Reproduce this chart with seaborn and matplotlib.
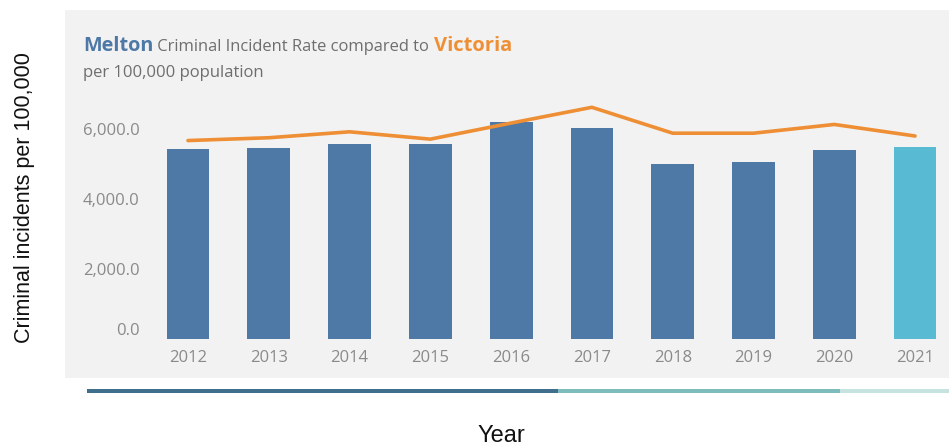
import matplotlib
matplotlib.use("Agg")
import matplotlib.pyplot as plt
from matplotlib.patches import Rectangle
from matplotlib.ticker import FuncFormatter
import seaborn as sns
import pandas as pd

# Annual criminal incident rates per 100,000 population
years = ["2012", "2013", "2014", "2015", "2016", "2017", "2018", "2019", "2020", "2021"]
melton_rate = [5420, 5450, 5560, 5560, 6210, 6020, 4990, 5070, 5400, 5480]
victoria_rate = [5670, 5750, 5920, 5710, 6170, 6620, 5880, 5880, 6130, 5800]

df = pd.DataFrame({"Year": years, "Melton": melton_rate, "Victoria": victoria_rate})

BLUE = "#4e79a7"
LIGHT_BLUE = "#59bbd3"
ORANGE = "#ee8f35"
TICK_GREY = "#8a8a8a"

sns.set_theme(style="white")
plt.rcParams["font.family"] = ["Open Sans", "DejaVu Sans"]

W, H = 949, 448
fig = plt.figure(figsize=(W / 100, H / 100), dpi=100)
fig.patch.set_facecolor("white")

# light grey dashboard panel, kept behind the axes
fig.patches.append(Rectangle((65 / W, (H - 378) / H), (W - 65) / W, 368 / H,
                             transform=fig.transFigure, facecolor="#f2f2f2",
                             edgecolor="none", zorder=-10))

ax_left, ax_right = 145, 949
ax_bottom, ax_top = 339, 94
ax = fig.add_axes([ax_left / W, (H - ax_bottom) / H,
                   (ax_right - ax_left) / W, (ax_bottom - ax_top) / H])
ax.set_facecolor("none")
ax.set_zorder(5)

bar_colors = [BLUE] * (len(years) - 1) + [LIGHT_BLUE]
sns.barplot(data=df, x="Year", y="Melton", hue="Year", palette=bar_colors,
            legend=False, width=0.53, saturation=1, linewidth=0, ax=ax)
sns.pointplot(data=df, x="Year", y="Victoria", color=ORANGE, markers="",
              linestyles="-", ax=ax)
for line in ax.lines:
    line.set_linewidth(2.6)
    line.set_solid_joinstyle("round")

ax.set_ylim(0, 7000)
ax.set_xlim(-0.532, 9.42)
ax.set_yticks([0, 2000, 4000, 6000])
ax.yaxis.set_major_formatter(FuncFormatter(lambda v, p: f"{v:,.1f}"))
ax.tick_params(axis="both", length=0, labelsize=12, labelcolor=TICK_GREY)
ax.tick_params(axis="y", pad=4)
ax.tick_params(axis="x", pad=8)
for lab in ax.get_yticklabels():
    if lab.get_text() == "0.0":
        lab.set_va("bottom")
for s in ax.spines.values():
    s.set_visible(False)
ax.set_xlabel("")
ax.set_ylabel("")

# outer axis titles
fig.text(25 / W, 1 - 198 / H, "Criminal incidents per 100,000", rotation=90,
         ha="center", va="center", fontsize=15.5, color="#111111",
         family=["Liberation Sans", "DejaVu Sans"])
fig.text(501 / W, 1 - 436 / H, "Year", ha="center", va="center", fontsize=17,
         color="#111111", family=["Liberation Sans", "DejaVu Sans"])

# title built from coloured runs
fig.canvas.draw()
renderer = fig.canvas.get_renderer()
x0 = 83 / W
ty = 1 - 51 / H
parts = [("Melton", BLUE, 14.3, "bold"),
         (" Criminal Incident Rate compared to ", "#6e6e6e", 11.9, "normal"),
         ("Victoria", ORANGE, 14.5, "bold")]
for txt, col, fs, fw in parts:
    t = fig.text(x0, ty, txt, color=col, fontsize=fs, fontweight=fw,
                 ha="left", va="baseline")
    bb = t.get_window_extent(renderer)
    x0 += bb.width / W
fig.text(83 / W, 1 - 77 / H, "per 100,000 population", color="#6e6e6e",
         fontsize=12, ha="left", va="baseline")

# bottom progress strip
strip_y = (H - 393) / H
strip_h = 4 / H
for xs, xe, c in [(87, 558, "#3f6f8c"), (558, 840, "#7cbcbc"), (840, W, "#c6e3df")]:
    fig.patches.append(Rectangle((xs / W, strip_y), (xe - xs) / W, strip_h,
                                 transform=fig.transFigure, facecolor=c,
                                 edgecolor="none", zorder=1))

fig.savefig("out.png", dpi=100, facecolor=fig.get_facecolor())
